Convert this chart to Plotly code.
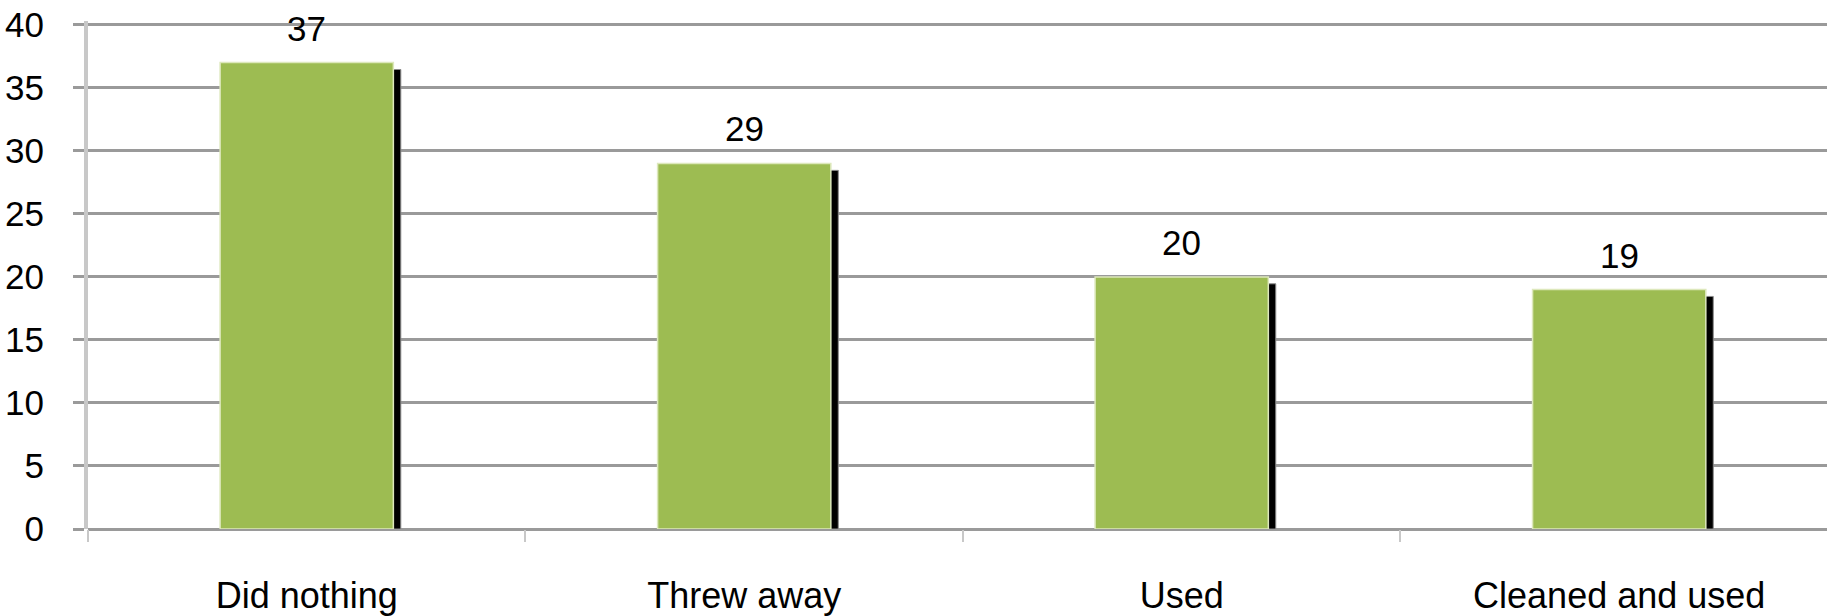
import plotly.graph_objects as go

categories = ["Did nothing", "Threw away", "Used", "Cleaned and used"]
values = [37, 29, 20, 19]
y_ticks = [0, 5, 10, 15, 20, 25, 30, 35, 40]

bar_w = 0.396
shadow_drop = 0.55

fig = go.Figure()
# shadow bars (behind)
fig.add_trace(go.Bar(
    x=categories, y=[v - shadow_drop for v in values],
    width=bar_w, offset=-bar_w / 2 + 0.017,
    marker=dict(color="#000000", line=dict(color="#8a8a8a", width=1)),
    hoverinfo="skip", showlegend=False,
))
# main bars
fig.add_trace(go.Bar(
    x=categories, y=values,
    width=bar_w, offset=-bar_w / 2,
    marker=dict(color="#9DBC52", line=dict(color="#DDE8BC", width=1.5)),
    showlegend=False,
))

for c, v in zip(categories, values):
    fig.add_annotation(x=c, y=v, text=str(v), showarrow=False,
                       yanchor="bottom", yshift=13,
                       font=dict(family="Liberation Sans, Arial", size=35, color="#000"))

fig.update_layout(
    width=1827, height=616,
    margin=dict(l=88, r=0, t=21, b=76),
    paper_bgcolor="white", plot_bgcolor="white",
    barmode="overlay",
    font=dict(family="Liberation Sans, Arial", size=35, color="#000"),
)
fig.update_xaxes(
    range=[-0.5, 3.475], tickson="boundaries",
    ticks="outside", ticklen=12, tickwidth=2, tickcolor="#C8C8C8",
    showline=False, showgrid=False, zeroline=False,
    tickfont=dict(size=36), ticklabelstandoff=42,
)
fig.update_yaxes(
    range=[0, 40.3], tickvals=y_ticks, ticktext=[str(t) for t in y_ticks],
    ticks="outside", ticklen=11, tickwidth=3, tickcolor="#9A9A9A",
    showgrid=True, gridcolor="#9A9A9A", gridwidth=3,
    showline=True, linecolor="#C8C8C8", linewidth=4,
    zeroline=True, zerolinecolor="#9A9A9A", zerolinewidth=3,
    tickfont=dict(size=35), ticklabelstandoff=22,
)

fig.write_html("out.html", config={"displayModeBar": False},
               post_script="document.body.style.margin='0';")
